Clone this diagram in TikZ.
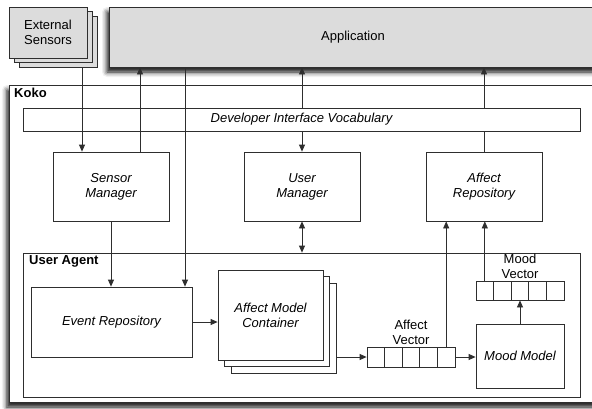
\documentclass[tikz,border=0pt]{standalone}
\usepackage{fontspec}
\setmainfont{Liberation Sans}
\usetikzlibrary{arrows.meta,shadows.blur}
\definecolor{boxgray}{HTML}{DCDCDC}
\definecolor{linec}{HTML}{2E2E2E}
\begin{document}
\begin{tikzpicture}[x=1pt,y=-1pt,
  every node/.style={font=\fontsize{13}{15}\selectfont},
  box/.style={draw=linec, line width=0.8pt, fill=white, inner sep=0pt, align=center},
  graybox/.style={box, fill=boxgray},
  comp/.style={box, minimum width=116pt, minimum height=69pt, font=\fontsize{13}{15}\selectfont\itshape},
  cell/.style={box, minimum width=17.6pt, minimum height=20pt},
  conn/.style={draw=linec, line width=0.8pt},
  arr/.style={conn, -{Triangle[length=7pt,width=6pt]}},
  darr/.style={conn, {Triangle[length=7pt,width=6pt]}-{Triangle[length=7pt,width=6pt]}},
  lbl/.style={font=\fontsize{13}{15}\selectfont\bfseries, anchor=north west, inner sep=0pt},
  shad/.style={blur shadow={shadow xshift=-2pt, shadow yshift=-5pt, shadow blur radius=5pt, shadow opacity=95}}
]
\useasboundingbox (0,0) rectangle (592,408);
\clip (0,0) rectangle (592,408);

% Koko outer box
\node[box, shad, minimum width=588pt, minimum height=317pt] (koko) at (303,243.5) {};
\node[lbl] (kokol) at (14,88) {Koko};

% Application
\node[graybox, shad, minimum width=488pt, minimum height=60pt] (app) at (353,37) {Application};

% External sensors stack
\node[graybox, minimum width=78pt, minimum height=51pt] (es3) at (58,41.5) {};
\node[graybox, minimum width=78pt, minimum height=51pt] (es2) at (53,37) {};
\node[graybox, minimum width=78pt, minimum height=51pt] (es1) at (48,32.5) {External\\Sensors};

% Components
\node[comp] (sm) at (111,186.5) {Sensor\\Manager};
\node[comp] (um) at (302,186.5) {User\\Manager};
\node[comp] (ar) at (484,186.5) {Affect\\Repository};

% lanes
\coordinate (lanees) at (82,0);
\coordinate (lanesm) at (140,0);
\coordinate (laneer) at (185,0);

% Affect repository to application (hidden behind dev box)
\draw[arr] (ar.north) -- (ar.north |- app.south);

% Developer interface
\node[box, minimum width=557pt, minimum height=23pt, font=\fontsize{13}{15}\selectfont\itshape] (dev) at (301.5,119.5) {Developer Interface Vocabulary};

\draw[arr] (um.north |- dev.north) -- (um.north |- app.south);
\draw[arr] (um.north |- dev.south) -- (um.north);

% User agent
\node[box, minimum width=557pt, minimum height=144pt] (ua) at (301.5,325) {};
\node[lbl] (ual) at (29,255) {User Agent};

\draw[darr] (um.south) -- (um.south |- ua.north);

% Event repository
\node[box, minimum width=161pt, minimum height=70pt, font=\fontsize{13}{15}\selectfont\itshape] (er) at (111.5,322) {Event Repository};

% lanes crossing dev box
\draw[arr] (lanees |- es3.south) -- (lanees |- sm.north);
\draw[arr] (lanesm |- sm.north) -- (lanesm |- app.south);
\draw[arr] (laneer |- app.south) -- (laneer |- er.north);
\draw[arr] (sm.south) -- (sm.south |- er.north);

% Affect model container stack
\node[box, minimum width=105pt, minimum height=90pt] (amc3) at (283.5,328) {};
\node[box, minimum width=105pt, minimum height=90pt] (amc2) at (277,321.5) {};
\node[box, minimum width=105pt, minimum height=90pt, font=\fontsize{13}{15}\selectfont\itshape] (amc1) at (270.5,315) {Affect Model\\Container};

\draw[arr] (er.east) -- (er.east -| amc1.west);

% Affect vector
\foreach \i in {1,...,5} {
  \node[cell] (av\i) at ({367+8.8+17.6*(\i-1)},357) {};
}
\node[align=center, anchor=south, inner sep=0pt] (avl) at (411,345) {Affect\\Vector};

\draw[arr] (av1.west -| amc3.east) -- (av1.west);

% Mood model
\node[box, minimum width=88pt, minimum height=64pt, font=\fontsize{13}{15}\selectfont\itshape] (mm) at (520,356) {Mood Model};
\draw[arr] (av5.east) -- (av5.east -| mm.west);

% Mood vector
\foreach \i in {1,...,5} {
  \node[cell, minimum height=19pt] (mv\i) at ({476+8.8+17.6*(\i-1)},290.5) {};
}
\node[align=center, anchor=south, inner sep=0pt] (mvl) at (520,279) {Mood\\Vector};

\draw[arr] (mm.north) -- (mv3.south);
\draw[arr] (av5.north) -- (av5.north |- ar.south);
\draw[arr] (mv1.north) -- (mv1.north |- ar.south);
\end{tikzpicture}
\end{document}
